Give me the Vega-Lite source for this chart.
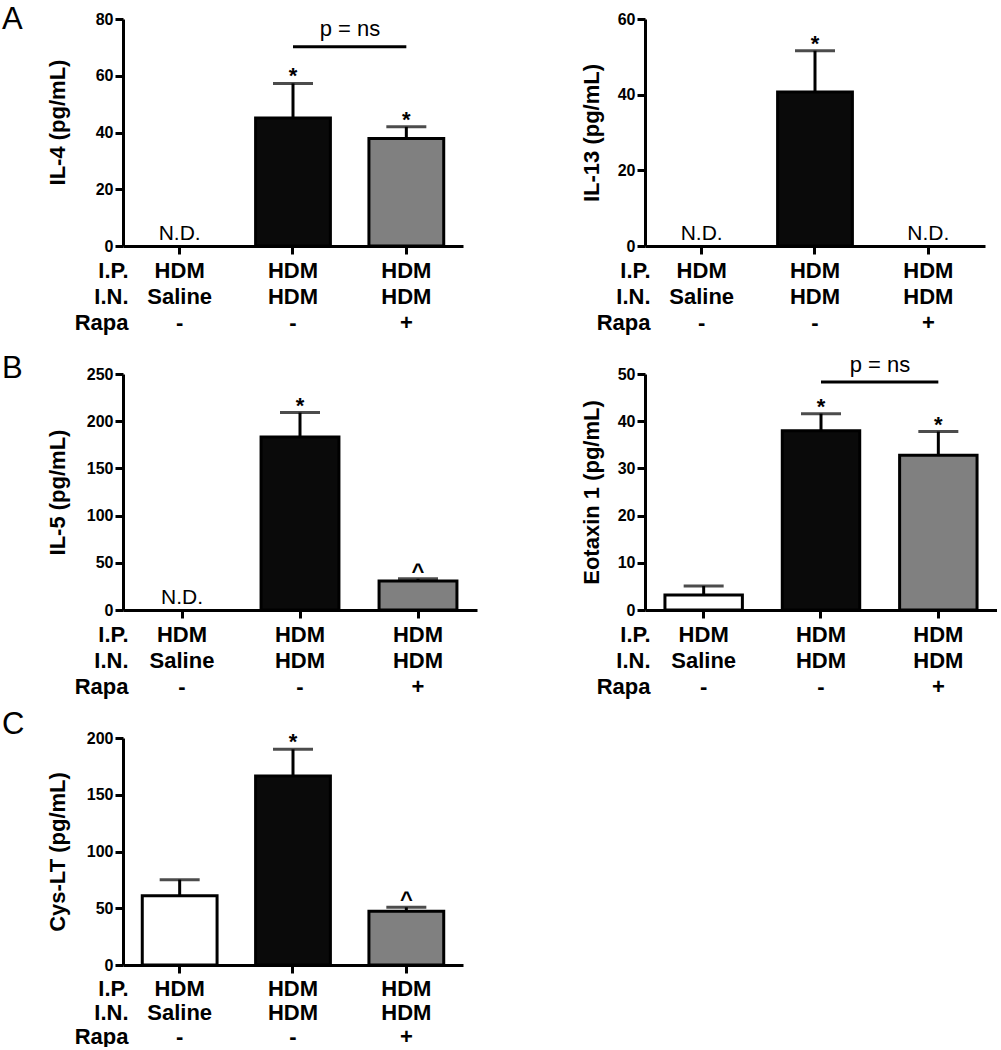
{
  "$schema": "https://vega.github.io/schema/vega-lite/v6.json",
  "padding": {"left": 2, "top": 4, "right": 0, "bottom": 0},
  "autosize": {"type": "pad"},
  "config": {
    "view": {"stroke": null},
    "font": "Liberation Sans",
    "axis": {"domainColor": "#000", "domainWidth": 3, "tickColor": "#000", "tickWidth": 3, "tickSize": 8, "grid": false, "labelFont": "Liberation Sans", "titleFont": "Liberation Sans", "labelColor": "#000", "titleColor": "#000"},
    "axisY": {"labelFontSize": 16, "labelFontWeight": "bold", "labelPadding": 2, "titleFontSize": 22, "titleFontWeight": "bold", "titleBaseline": "middle"},
    "axisX": {"labelFontSize": 22, "labelFontWeight": "bold", "labelPadding": 6, "labelLineHeight": 26, "labelAngle": 0, "titleFontSize": 22, "titleFontWeight": "bold", "titleLineHeight": 26, "titleAlign": "right", "titleBaseline": "top", "titleX": 5, "titleY": 14,
      "labelExpr": "datum.value == 'g1' ? ['HDM','Saline','-'] : datum.value == 'g2' ? ['HDM','HDM','-'] : ['HDM','HDM','+']"},
    "title": {"fontSize": 31, "fontWeight": "normal", "anchor": "start", "frame": "group", "baseline": "alphabetic", "color": "#000", "font": "Liberation Sans"},
    "text": {"font": "Liberation Sans", "color": "#000"}
  },
  "datasets": {
    "bars": [
      {"panel": "IL-4", "group": "g1", "mean": null, "upper": null, "sig": null, "nd": "N.D."},
      {"panel": "IL-4", "group": "g2", "mean": 45.1, "upper": 57.3, "sig": "*", "nd": null},
      {"panel": "IL-4", "group": "g3", "mean": 37.9, "upper": 42.0, "sig": "*", "nd": null},
      {"panel": "IL-13", "group": "g1", "mean": null, "upper": null, "sig": null, "nd": "N.D."},
      {"panel": "IL-13", "group": "g2", "mean": 40.7, "upper": 51.6, "sig": "*", "nd": null},
      {"panel": "IL-13", "group": "g3", "mean": null, "upper": null, "sig": null, "nd": "N.D."},
      {"panel": "IL-5", "group": "g1", "mean": null, "upper": null, "sig": null, "nd": "N.D."},
      {"panel": "IL-5", "group": "g2", "mean": 183.3, "upper": 209.1, "sig": "*", "nd": null},
      {"panel": "IL-5", "group": "g3", "mean": 30.6, "upper": 33.0, "sig": "^", "nd": null},
      {"panel": "Eotaxin", "group": "g1", "mean": 3.2, "upper": 5.1, "sig": null, "nd": null},
      {"panel": "Eotaxin", "group": "g2", "mean": 38.0, "upper": 41.6, "sig": "*", "nd": null},
      {"panel": "Eotaxin", "group": "g3", "mean": 32.8, "upper": 37.8, "sig": "*", "nd": null},
      {"panel": "Cys-LT", "group": "g1", "mean": 61.1, "upper": 75.2, "sig": null, "nd": null},
      {"panel": "Cys-LT", "group": "g2", "mean": 166.5, "upper": 190.0, "sig": "*", "nd": null},
      {"panel": "Cys-LT", "group": "g3", "mean": 47.3, "upper": 50.8, "sig": "^", "nd": null}
    ],
    "brackets": [
      {"panel": "IL-4", "group": "g2", "to": "g3", "y": 70.2, "label": "p = ns"},
      {"panel": "Eotaxin", "group": "g2", "to": "g3", "y": 48.3, "label": "p = ns"}
    ]
  },
  "columns": 2,
  "bounds": "flush",
  "spacing": {"row": 128, "column": 168},
  "resolve": {"scale": {"x": "independent", "y": "independent", "fill": "independent"}},
  "concat": [
    {
      "width": 340, "height": 227,
      "title": {"text": "A", "dx": -121, "offset": -25},
      "encoding": {"x": {"field": "group", "type": "nominal", "scale": {"domain": ["g1", "g2", "g3"], "paddingInner": 0.34, "paddingOuter": 0.17}, "axis": {"title": ["I.P.", "I.N.", "Rapa\u00a0"]}}},
      "layer": [
        {"data": {"name": "bars"}, "transform": [{"filter": "datum.panel == 'IL-4'"}], "mark": {"type": "bar", "stroke": "#000", "strokeWidth": 3},
         "encoding": {"y": {"field": "mean", "type": "quantitative", "scale": {"domain": [0, 80], "nice": false}, "axis": {"title": "IL-4 (pg/mL)", "values": [0, 20, 40, 60, 80], "titleX": -66, "titleY": 103}},
                      "fill": {"field": "group", "type": "nominal", "scale": {"domain": ["g1", "g2", "g3"], "range": ["#ffffff", "#0a0a0a", "#808080"]}, "legend": null}}},
        {"data": {"name": "bars"}, "transform": [{"filter": "datum.panel == 'IL-4'"}], "mark": {"type": "rule", "strokeWidth": 3, "color": "#000"}, "encoding": {"y": {"field": "mean", "type": "quantitative"}, "y2": {"field": "upper"}}},
        {"data": {"name": "bars"}, "transform": [{"filter": "datum.panel == 'IL-4'"}], "mark": {"type": "tick", "size": 40, "thickness": 3, "color": "#000"}, "encoding": {"y": {"field": "upper", "type": "quantitative"}}},
        {"data": {"name": "bars"}, "transform": [{"filter": "datum.panel == 'IL-4' && datum.sig != null"}], "mark": {"type": "text", "fontSize": 22, "fontWeight": "bold", "baseline": "alphabetic"}, "encoding": {"y": {"field": "upper", "type": "quantitative"}, "text": {"field": "sig"}}},
        {"data": {"name": "bars"}, "transform": [{"filter": "datum.panel == 'IL-4' && datum.nd != null"}], "mark": {"type": "text", "fontSize": 21, "baseline": "alphabetic", "dy": -6}, "encoding": {"y": {"datum": 0}, "text": {"field": "nd"}}},
        {"data": {"name": "brackets"}, "transform": [{"filter": "datum.panel == 'IL-4'"}], "mark": {"type": "rule", "strokeWidth": 3, "color": "#000"}, "encoding": {"x2": {"field": "to"}, "y": {"field": "y", "type": "quantitative"}}},
        {"data": {"name": "brackets"}, "transform": [{"filter": "datum.panel == 'IL-4'"}], "mark": {"type": "text", "fontSize": 22, "baseline": "alphabetic", "dx": 57, "dy": -11}, "encoding": {"y": {"field": "y", "type": "quantitative"}, "text": {"field": "label"}}}
      ]
    },
    {
      "width": 340, "height": 227,
      "encoding": {"x": {"field": "group", "type": "nominal", "scale": {"domain": ["g1", "g2", "g3"], "paddingInner": 0.34, "paddingOuter": 0.17}, "axis": {"title": ["I.P.", "I.N.", "Rapa\u00a0"]}}},
      "layer": [
        {"data": {"name": "bars"}, "transform": [{"filter": "datum.panel == 'IL-13'"}], "mark": {"type": "bar", "stroke": "#000", "strokeWidth": 3},
         "encoding": {"y": {"field": "mean", "type": "quantitative", "scale": {"domain": [0, 60], "nice": false}, "axis": {"title": "IL-13 (pg/mL)", "values": [0, 20, 40, 60], "titleX": -54}},
                      "fill": {"field": "group", "type": "nominal", "scale": {"domain": ["g1", "g2", "g3"], "range": ["#ffffff", "#0a0a0a", "#808080"]}, "legend": null}}},
        {"data": {"name": "bars"}, "transform": [{"filter": "datum.panel == 'IL-13'"}], "mark": {"type": "rule", "strokeWidth": 3, "color": "#000"}, "encoding": {"y": {"field": "mean", "type": "quantitative"}, "y2": {"field": "upper"}}},
        {"data": {"name": "bars"}, "transform": [{"filter": "datum.panel == 'IL-13'"}], "mark": {"type": "tick", "size": 40, "thickness": 3, "color": "#000"}, "encoding": {"y": {"field": "upper", "type": "quantitative"}}},
        {"data": {"name": "bars"}, "transform": [{"filter": "datum.panel == 'IL-13' && datum.sig != null"}], "mark": {"type": "text", "fontSize": 22, "fontWeight": "bold", "baseline": "alphabetic"}, "encoding": {"y": {"field": "upper", "type": "quantitative"}, "text": {"field": "sig"}}},
        {"data": {"name": "bars"}, "transform": [{"filter": "datum.panel == 'IL-13' && datum.nd != null"}], "mark": {"type": "text", "fontSize": 21, "baseline": "alphabetic", "dy": -6}, "encoding": {"y": {"datum": 0}, "text": {"field": "nd"}}}
      ]
    },
    {
      "width": 354, "height": 236,
      "title": {"text": "B", "dx": -121, "offset": -19},
      "encoding": {"x": {"field": "group", "type": "nominal", "scale": {"domain": ["g1", "g2", "g3"], "paddingInner": 0.34, "paddingOuter": 0.17}, "axis": {"title": ["I.P.", "I.N.", "Rapa\u00a0"]}}},
      "layer": [
        {"data": {"name": "bars"}, "transform": [{"filter": "datum.panel == 'IL-5'"}], "mark": {"type": "bar", "stroke": "#000", "strokeWidth": 3},
         "encoding": {"y": {"field": "mean", "type": "quantitative", "scale": {"domain": [0, 250], "nice": false}, "axis": {"title": "IL-5 (pg/mL)", "values": [0, 50, 100, 150, 200, 250], "titleX": -66}},
                      "fill": {"field": "group", "type": "nominal", "scale": {"domain": ["g1", "g2", "g3"], "range": ["#ffffff", "#0a0a0a", "#808080"]}, "legend": null}}},
        {"data": {"name": "bars"}, "transform": [{"filter": "datum.panel == 'IL-5'"}], "mark": {"type": "rule", "strokeWidth": 3, "color": "#000"}, "encoding": {"y": {"field": "mean", "type": "quantitative"}, "y2": {"field": "upper"}}},
        {"data": {"name": "bars"}, "transform": [{"filter": "datum.panel == 'IL-5'"}], "mark": {"type": "tick", "size": 40, "thickness": 3, "color": "#000"}, "encoding": {"y": {"field": "upper", "type": "quantitative"}}},
        {"data": {"name": "bars"}, "transform": [{"filter": "datum.panel == 'IL-5' && datum.sig != null"}], "mark": {"type": "text", "fontSize": 22, "fontWeight": "bold", "baseline": "alphabetic"}, "encoding": {"y": {"field": "upper", "type": "quantitative"}, "text": {"field": "sig"}}},
        {"data": {"name": "bars"}, "transform": [{"filter": "datum.panel == 'IL-5' && datum.nd != null"}], "mark": {"type": "text", "fontSize": 21, "baseline": "alphabetic", "dy": -6}, "encoding": {"y": {"datum": 0}, "text": {"field": "nd"}}}
      ]
    },
    {
      "width": 352, "height": 236,
      "encoding": {"x": {"field": "group", "type": "nominal", "scale": {"domain": ["g1", "g2", "g3"], "paddingInner": 0.34, "paddingOuter": 0.17}, "axis": {"title": ["I.P.", "I.N.", "Rapa\u00a0"]}}},
      "layer": [
        {"data": {"name": "bars"}, "transform": [{"filter": "datum.panel == 'Eotaxin'"}], "mark": {"type": "bar", "stroke": "#000", "strokeWidth": 3},
         "encoding": {"y": {"field": "mean", "type": "quantitative", "scale": {"domain": [0, 50], "nice": false}, "axis": {"title": "Eotaxin 1 (pg/mL)", "values": [0, 10, 20, 30, 40, 50], "titleX": -54}},
                      "fill": {"field": "group", "type": "nominal", "scale": {"domain": ["g1", "g2", "g3"], "range": ["#ffffff", "#0a0a0a", "#808080"]}, "legend": null}}},
        {"data": {"name": "bars"}, "transform": [{"filter": "datum.panel == 'Eotaxin'"}], "mark": {"type": "rule", "strokeWidth": 3, "color": "#000"}, "encoding": {"y": {"field": "mean", "type": "quantitative"}, "y2": {"field": "upper"}}},
        {"data": {"name": "bars"}, "transform": [{"filter": "datum.panel == 'Eotaxin'"}], "mark": {"type": "tick", "size": 40, "thickness": 3, "color": "#000"}, "encoding": {"y": {"field": "upper", "type": "quantitative"}}},
        {"data": {"name": "bars"}, "transform": [{"filter": "datum.panel == 'Eotaxin' && datum.sig != null"}], "mark": {"type": "text", "fontSize": 22, "fontWeight": "bold", "baseline": "alphabetic"}, "encoding": {"y": {"field": "upper", "type": "quantitative"}, "text": {"field": "sig"}}},
        {"data": {"name": "brackets"}, "transform": [{"filter": "datum.panel == 'Eotaxin'"}], "mark": {"type": "rule", "strokeWidth": 3, "color": "#000"}, "encoding": {"x2": {"field": "to"}, "y": {"field": "y", "type": "quantitative"}}},
        {"data": {"name": "brackets"}, "transform": [{"filter": "datum.panel == 'Eotaxin'"}], "mark": {"type": "text", "fontSize": 22, "baseline": "alphabetic", "dx": 59, "dy": -10}, "encoding": {"y": {"field": "y", "type": "quantitative"}, "text": {"field": "label"}}}
      ]
    },
    {
      "width": 340, "height": 227,
      "title": {"text": "C", "dx": -121, "offset": -11},
      "encoding": {"x": {"field": "group", "type": "nominal", "scale": {"domain": ["g1", "g2", "g3"], "paddingInner": 0.34, "paddingOuter": 0.17}, "axis": {"title": ["I.P.", "I.N.", "Rapa\u00a0"], "labelPadding": 5, "labelLineHeight": 24, "titleLineHeight": 24, "titleY": 13}}},
      "layer": [
        {"data": {"name": "bars"}, "transform": [{"filter": "datum.panel == 'Cys-LT'"}], "mark": {"type": "bar", "stroke": "#000", "strokeWidth": 3},
         "encoding": {"y": {"field": "mean", "type": "quantitative", "scale": {"domain": [0, 200], "nice": false}, "axis": {"title": "Cys-LT (pg/mL)", "values": [0, 50, 100, 150, 200], "titleX": -66}},
                      "fill": {"field": "group", "type": "nominal", "scale": {"domain": ["g1", "g2", "g3"], "range": ["#ffffff", "#0a0a0a", "#808080"]}, "legend": null}}},
        {"data": {"name": "bars"}, "transform": [{"filter": "datum.panel == 'Cys-LT'"}], "mark": {"type": "rule", "strokeWidth": 3, "color": "#000"}, "encoding": {"y": {"field": "mean", "type": "quantitative"}, "y2": {"field": "upper"}}},
        {"data": {"name": "bars"}, "transform": [{"filter": "datum.panel == 'Cys-LT'"}], "mark": {"type": "tick", "size": 40, "thickness": 3, "color": "#000"}, "encoding": {"y": {"field": "upper", "type": "quantitative"}}},
        {"data": {"name": "bars"}, "transform": [{"filter": "datum.panel == 'Cys-LT' && datum.sig != null"}], "mark": {"type": "text", "fontSize": 22, "fontWeight": "bold", "baseline": "alphabetic"}, "encoding": {"y": {"field": "upper", "type": "quantitative"}, "text": {"field": "sig"}}}
      ]
    }
  ]
}
